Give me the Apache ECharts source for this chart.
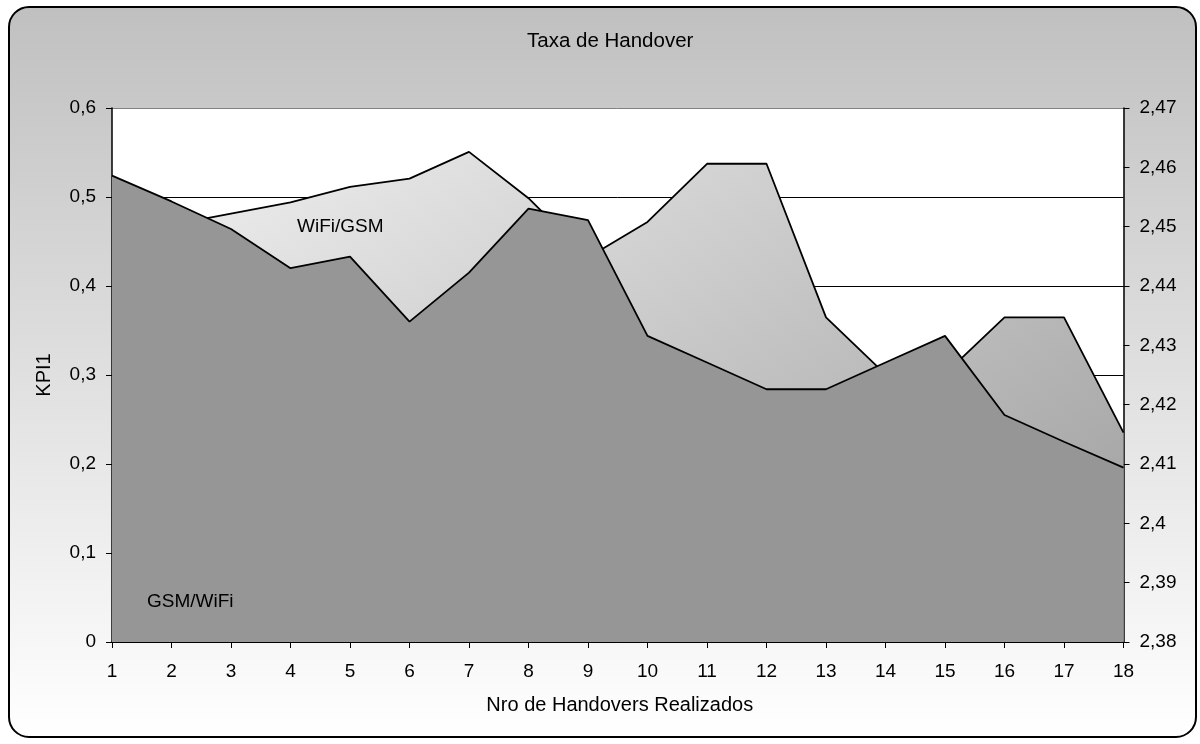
<!DOCTYPE html>
<html>
<head>
<meta charset="utf-8">
<script src="https://cdn.jsdelivr.net/npm/echarts@6/dist/echarts.min.js"></script>
<style>
html,body{margin:0;padding:0;background:#fff;}
#chart{width:1200px;height:744px;}
</style>
</head>
<body>
<div id="chart"></div>
<script>
const categories = ['1','2','3','4','5','6','7','8','9','10','11','12','13','14','15','16','17','18'];
// GSM/WiFi on left axis (KPI1)
const gsmWifi = [0.524, 0.495, 0.464, 0.420, 0.433, 0.360, 0.415, 0.487, 0.474, 0.344, 0.314, 0.284, 0.284, 0.314, 0.344, 0.255, 0.225, 0.196];
// WiFi/GSM on right axis
const wifiGsm = [2.452, 2.4503, 2.4522, 2.4541, 2.4567, 2.4581, 2.4626, 2.4548, 2.4448, 2.4508, 2.4606, 2.4606, 2.4347, 2.4251, 2.4252, 2.4347, 2.4347, 2.4153];
const leftTicks = {min: 0, max: 0.6, interval: 0.1};
const rightTicks = {min: 2.38, max: 2.47, interval: 0.01};
const titleText = 'Taxa de Handover';
const xName = 'Nro de Handovers Realizados';
const yName = 'KPI1';

const FONT = "'Liberation Sans', Arial, sans-serif";
const fmt = v => {
  const s = parseFloat(v.toFixed(2)).toString();
  return s.replace('.', ',');
};

const chart = echarts.init(document.getElementById('chart'), null, {renderer: 'canvas'});
const option = {
  animation: false,
  backgroundColor: 'transparent',
  textStyle: {fontFamily: FONT, color: '#000'},
  title: {
    text: titleText, left: 522, top: 26,
    textStyle: {fontFamily: FONT, fontSize: 20.5, fontWeight: 'normal', color: '#000'}
  },
  graphic: [
    {
      type: 'rect', z: -100, silent: true,
      shape: {x: 9, y: 7, width: 1187, height: 730, r: 20},
      style: {
        fill: new echarts.graphic.LinearGradient(0, 0, 0, 1, [
          {offset: 0, color: '#c0c0c0'}, {offset: 1, color: '#ffffff'}
        ]),
        stroke: '#000', lineWidth: 2
      }
    },
    {
      type: 'text', z: 100, left: 297, top: 217, silent: true,
      style: {text: 'WiFi/GSM', font: "19px 'Liberation Sans', Arial, sans-serif", fill: '#000'}
    },
    {
      type: 'text', z: 100, left: 147, top: 592, silent: true,
      style: {text: 'GSM/WiFi', font: "19px 'Liberation Sans', Arial, sans-serif", fill: '#000'}
    }
  ],
  grid: {
    left: 112, right: 76.5, top: 108, bottom: 102,
    show: true, backgroundColor: '#ffffff', borderWidth: 0
  },
  xAxis: {
    type: 'category', data: categories, boundaryGap: false,
    name: xName, nameLocation: 'middle', nameGap: 53,
    nameTextStyle: {fontFamily: FONT, fontSize: 20, color: '#000', padding: [0, 0, 0, 4]},
    axisLine: {show: true, onZero: false, lineStyle: {color: '#000', width: 1.5}},
    axisTick: {show: true, length: 6, lineStyle: {color: '#000'}},
    axisLabel: {fontFamily: FONT, fontSize: 19, color: '#000', margin: 20},
    splitLine: {show: false}
  },
  yAxis: [
    {
      type: 'value', min: leftTicks.min, max: leftTicks.max, interval: leftTicks.interval,
      name: yName, nameLocation: 'middle', nameGap: 58, nameRotate: 90,
      nameTextStyle: {fontFamily: FONT, fontSize: 20, color: '#000'},
      axisLine: {show: true, lineStyle: {color: '#000', width: 1.5}},
      axisTick: {show: true, length: 6, lineStyle: {color: '#000'}},
      axisLabel: {fontFamily: FONT, fontSize: 19, color: '#000', margin: 16, formatter: fmt},
      splitLine: {show: true, lineStyle: {color: ['#000','#000','#000','#000','#000','#000','#808080'], width: 1}}
    },
    {
      type: 'value', position: 'right', min: rightTicks.min, max: rightTicks.max, interval: rightTicks.interval,
      axisLine: {show: true, lineStyle: {color: '#000', width: 1.5}},
      axisTick: {show: true, length: 6, lineStyle: {color: '#000'}},
      axisLabel: {fontFamily: FONT, fontSize: 19, color: '#000', margin: 16, formatter: fmt},
      splitLine: {show: false}
    }
  ],
  series: [
    {
      name: 'WiFi/GSM', type: 'line', yAxisIndex: 1, data: wifiGsm,
      symbol: 'none', z: 2,
      lineStyle: {color: '#000', width: 1.8},
      areaStyle: {
        origin: 'start', opacity: 1,
        color: new echarts.graphic.LinearGradient(533, -85, 1082, 737, [
          {offset: 0, color: '#efefef'}, {offset: 1, color: '#969696'}
        ], true)
      }
    },
    {
      name: 'GSM/WiFi', type: 'line', yAxisIndex: 0, data: gsmWifi,
      symbol: 'none', z: 3,
      lineStyle: {color: '#000', width: 1.8},
      areaStyle: {origin: 'start', opacity: 1, color: '#969696'}
    }
  ]
};
chart.setOption(option);
</script>
</body>
</html>
